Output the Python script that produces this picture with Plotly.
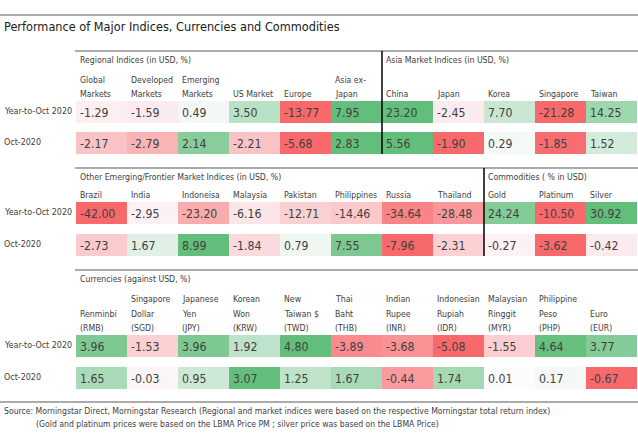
import plotly.graph_objects as go

# ---------------- data ----------------
row_labels = ["Year-to-Oct 2020", "Oct-2020"]

regional_labels = ["Global<br>Markets", "Developed<br>Markets", "Emerging<br>Markets", "US Market", "Europe", "Asia ex-<br>Japan"]
regional_ytd = [-1.29, -1.59, 0.49, 3.50, -13.77, 7.95]
regional_oct = [-2.17, -2.79, 2.14, -2.21, -5.68, 2.83]

asia_labels = ["China", "Japan", "Korea", "Singapore", "Taiwan"]
asia_ytd = [23.20, -2.45, 7.70, -21.28, 14.25]
asia_oct = [5.56, -1.90, 0.29, -1.85, 1.52]

em_labels = ["Brazil", "India", "Indoneisa", "Malaysia", "Pakistan", "Philippines", "Russia", "Thailand"]
em_ytd = [-42.00, -2.95, -23.20, -6.16, -12.71, -14.46, -34.64, -28.48]
em_oct = [-2.73, 1.67, 8.99, -1.84, 0.79, 7.55, -7.96, -2.31]

comm_labels = ["Gold", "Platinum", "Silver"]
comm_ytd = [24.24, -10.50, 30.92]
comm_oct = [-0.27, -3.62, -0.42]

fx_labels = ["Renminbi<br>(RMB)", "Singapore<br>Dollar<br>(SGD)", "Japanese<br>Yen<br>(JPY)",
             "Korean<br>Won<br>(KRW)", "New<br>Taiwan $<br>(TWD)", "Thai<br>Baht<br>(THB)",
             "Indian<br>Rupee<br>(INR)", "Indonesian<br>Rupiah<br>(IDR)", "Malaysian<br>Ringgit<br>(MYR)",
             "Philippine<br>Peso<br>(PHP)", "Euro<br>(EUR)"]
fx_ytd = [3.96, -1.53, 3.96, 1.92, 4.80, -3.89, -3.68, -5.08, -1.55, 4.64, 3.77]
fx_oct = [1.65, -0.03, 0.95, 3.07, 1.25, 1.67, -0.44, 1.74, 0.01, 0.17, -0.67]

title = "Performance of Major Indices, Currencies and Commodities"
source_lines = ["Source: Morningstar Direct, Morningstar Research (Regional and market indices were based on the respective Morningstar total return index)",
                "(Gold and platinum prices were based on the LBMA Price PM ; silver price was based on the LBMA Price)"]

# ---------------- style / layout ----------------
W, H = 638, 433
FONT = "DejaVu Sans Condensed, Liberation Sans Narrow, sans-serif"
TXT = "#404040"
RED = (248, 105, 107)
MID = (252, 252, 255)
GREEN = (99, 190, 123)

X0, CW = 76, 51          # first column left edge, column width
CELL_H = 22
LABEL_GAP, LABEL_STEP = 7, 14.5


def mix(a, b, t):
    t = max(0.0, min(1.0, t))
    return "rgb(%d,%d,%d)" % tuple(round(a[i] + (b[i] - a[i]) * t) for i in range(3))


def cell_color(v, vals):
    lo, hi = min(vals), max(vals)
    if v < 0:
        return mix(MID, RED, v / lo if lo < 0 else 0)
    return mix(MID, GREEN, v / hi if hi > 0 else 0)


fig = go.Figure()
shapes, annos = [], []


def text(x, y, s, size, xanchor="left", yanchor="middle", color=TXT):
    annos.append(dict(x=x, y=y, text=s, showarrow=False, xanchor=xanchor, yanchor=yanchor,
                      align="left", xref="x", yref="y", borderpad=0,
                      font=dict(family=FONT, size=size, color=color)))


def hline(y, x0, x1, color="#595959", width=1):
    shapes.append(dict(type="line", x0=x0, x1=x1, y0=y, y1=y, xref="x", yref="y",
                       line=dict(color=color, width=width)))


def vline(x, y0, y1):
    shapes.append(dict(type="line", x0=x, x1=x, y0=y0, y1=y1, xref="x", yref="y",
                       line=dict(color="black", width=1.5)))


def group(col0, labels, rows, header, block_top, row_tops):
    text(X0 + col0 * CW + 3, block_top + 8.5, header, 8.7)
    for i, lab in enumerate(labels):
        x = X0 + (col0 + i) * CW
        lines = lab.split("<br>")
        for k, ln in enumerate(reversed(lines)):
            text(x + 3, row_tops[0] - LABEL_GAP - k * LABEL_STEP, ln, 8.7)
    for vals, top in zip(rows, row_tops):
        for i, v in enumerate(vals):
            x = X0 + (col0 + i) * CW
            shapes.append(dict(type="rect", x0=x, x1=x + CW, y0=top, y1=top + CELL_H,
                               xref="x", yref="y", line=dict(width=0),
                               fillcolor=cell_color(v, vals), layer="below"))
            text(x + 2.5, top + CELL_H / 2 + 0.5, "%.2f" % v, 12.2)


hline(15, 0, W)
text(3, 26.5, title, 12.6, color="#202020")

blocks = [
    dict(top=51, rows=(101, 132),
         groups=[(0, regional_labels, (regional_ytd, regional_oct), "Regional Indices (in USD, %)"),
                 (6, asia_labels, (asia_ytd, asia_oct), "Asia Market Indices (in USD, %)")]),
    dict(top=168, rows=(202, 234),
         groups=[(0, em_labels, (em_ytd, em_oct), "Other Emerging/Frontier Market Indices (in USD, %)"),
                 (8, comm_labels, (comm_ytd, comm_oct), "Commodities ( % in USD)")]),
    dict(top=270, rows=(335, 367),
         groups=[(0, fx_labels, (fx_ytd, fx_oct), "Currencies (against USD, %)")]),
]

for b in blocks:
    hline(b["top"], X0 - 1, W)
    for g in b["groups"]:
        group(g[0], g[1], g[2], g[3], b["top"], b["rows"])
        if g[0] > 0:
            vline(X0 + g[0] * CW, b["top"], b["rows"][1] + CELL_H)
    for lab, top in zip(row_labels, b["rows"]):
        text(3, top + CELL_H / 2 - 1.5, lab, 8.9)

hline(402, 0, W)
text(3, 410.5, source_lines[0], 8.6)
text(35, 424, source_lines[1], 8.6)

fig.update_layout(
    width=W, height=H, margin=dict(l=0, r=0, t=0, b=0),
    paper_bgcolor="white", plot_bgcolor="white",
    xaxis=dict(range=[0, W], visible=False, fixedrange=True),
    yaxis=dict(range=[H, 0], visible=False, fixedrange=True),
    shapes=shapes, annotations=annos, showlegend=False,
)
fig.write_html("out.html", config={"displayModeBar": False},
               post_script="document.body.style.margin='0';document.body.style.overflow='hidden';")
